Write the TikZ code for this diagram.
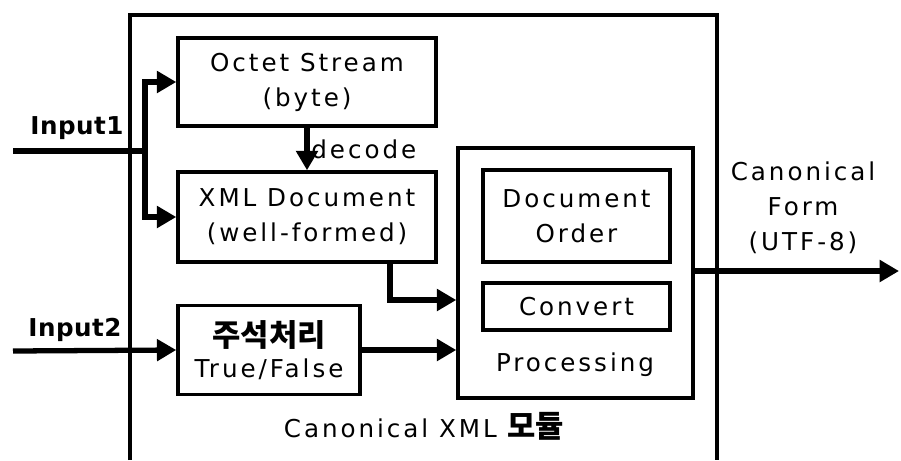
\documentclass[tikz,border=0pt]{standalone}
\usepackage{fontspec}
\setmainfont{DejaVu Sans}[LetterSpace=12]
\newfontfamily\kr{Noto Sans CJK KR}[Scale=1.25]
\newfontfamily\inp{DejaVu Sans}[LetterSpace=2]
\usepackage{tikz}
\usetikzlibrary{positioning,arrows.meta,calc}

\begin{document}
\begin{tikzpicture}[
  x=0.02cm, y=-0.02cm,
  every node/.style={font=\fontsize{14}{20}\selectfont},
  blk/.style={
    draw=black, line width=2pt, align=center, inner sep=0pt,
  },
  arrow/.style={-{Triangle[length=11pt,width=12pt]}, line width=3pt},
  plain/.style={line width=3pt},
  frame/.style={line width=1.8pt},
  inlbl/.style={font=\fontsize{14}{20}\inp\bfseries},
]
  \useasboundingbox (0,0) rectangle (901,460);

  % module frame, open at the bottom
  \draw[frame] (130,460) -- (130,15) -- (717,15) -- (717,460);

  \node[blk, minimum width=5.16cm, minimum height=1.76cm] (octet) at (307,82)
    {Octet Stream\\(byte)};
  \node[blk, minimum width=5.16cm, minimum height=1.8cm] (xml) at (307,217)
    {XML Document\\(well-formed)};
  \node[blk, minimum width=3.64cm, minimum height=1.78cm] (note) at (269,350)
    {{\kr\bfseries 주석처리}\\[-2pt]True/False};

  \node[blk, minimum width=4.7cm, minimum height=5cm] (proc) at (575.5,273) {};
  \node[blk, minimum width=3.74cm, minimum height=1.84cm] (order) at (576.5,216)
    {Document\\Order};
  \node[blk, minimum width=3.74cm, minimum height=0.94cm] (conv) at (576.5,306.5)
    {Convert};
  \node (proclbl) at (575,365) {Processing};

  \node (modlbl) at (424,426) {Canonical XML {\kr\bfseries 모듈}};

  % inputs
  \coordinate (in1) at (13,151);
  \coordinate (br1) at (145,151);
  \coordinate (in2) at (13,351);
  \node[inlbl] (in1lbl) at (77,128) {Input1};
  \node[inlbl] (in2lbl) at (75,330) {Input2};

  \draw[plain] (in1) -- (br1);
  \draw[arrow] (br1) |- (octet.west);
  \draw[arrow] (br1) |- (xml.west);
  \draw[arrow] (in2) -- (note.west);

  \draw[arrow] (octet.south) -- (xml.north)
    node[midway, right, inner sep=1pt] {decode};

  \draw[arrow] (xml.south -| 390,0) |- (proc.west |- 0,300);
  \draw[arrow] (note.east) -- (proc.west |- note.east);

  % output
  \coordinate (out) at (899,271);
  \draw[arrow] (proc.east |- out) -- (out);
  \node[align=center] (outlbl) at (803,208) {Canonical\\Form\\(UTF-8)};
\end{tikzpicture}
\end{document}
